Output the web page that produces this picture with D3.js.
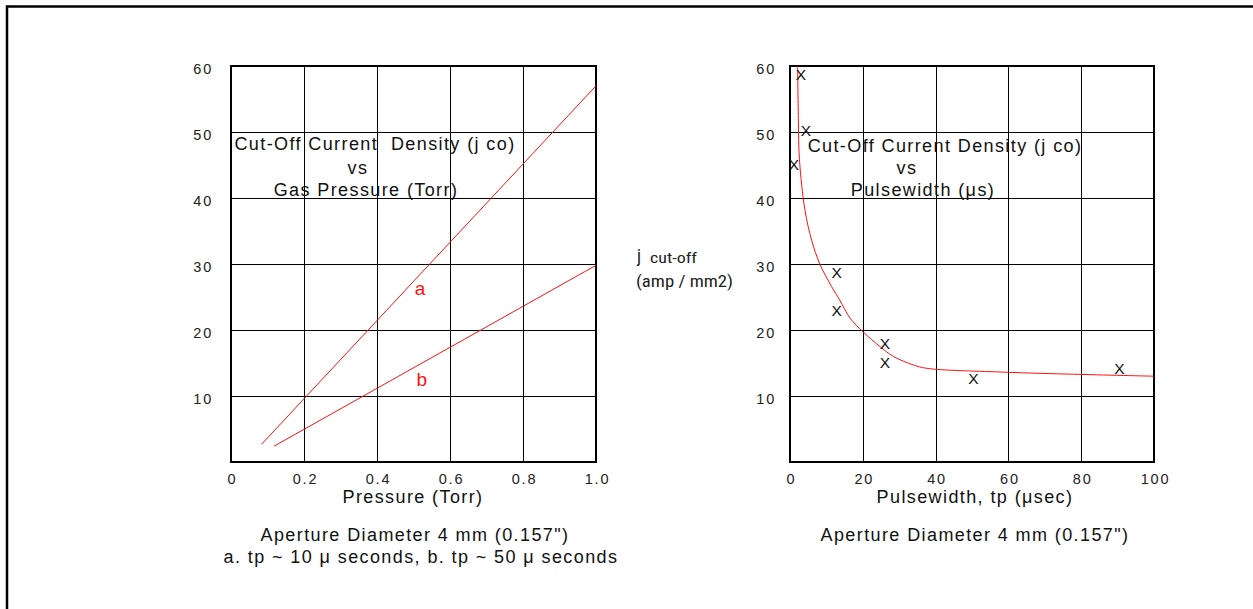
<!DOCTYPE html>
<html>
<head>
<meta charset="utf-8">
<script src="https://cdn.jsdelivr.net/npm/d3@7"></script>
<style>
  html, body { margin: 0; padding: 0; background: #fff; }
  svg { display: block; }
  .lbl { font-family: "Liberation Sans", Arial, sans-serif; font-size: 18px; fill: #111; letter-spacing: 1.4px; }
</style>
</head>
<body>
<svg id="chart" width="1253" height="609"></svg>
<script>
// ---------- data ----------
const pressureTicks = [0, 0.2, 0.4, 0.6, 0.8, 1.0];
const pressureTickLabels = ["0", "0.2", "0.4", "0.6", "0.8", "1.0"];
const pulseTicks = [0, 20, 40, 60, 80, 100];
const pulseTickLabels = ["0", "20", "40", "60", "80", "100"];
const densityTicks = [10, 20, 30, 40, 50, 60];

// left chart: lines a (tp ~ 10 us) and b (tp ~ 50 us): [pressure, j]
const lineA = [[0.084, 2.7], [1.0, 57.0]];
const lineB = [[0.118, 2.4], [1.0, 29.8]];
const lineLabels = [
  { text: "a", x: 0.518, y: 25.3 },
  { text: "b", x: 0.523, y: 11.5 }
];

// right chart: fitted curve [tp, j] and measured points
const fitCurve = [
  [2.1, 60], [2.3, 52], [2.6, 45.8], [4.1, 38.2], [6.0, 33.5], [8.2, 30.0],
  [11.4, 26.6], [13.7, 24.5], [16.5, 21.8], [20.1, 19.7], [24.7, 17.5],
  [28.4, 16.0], [33.9, 14.7], [37.5, 14.2], [59.5, 13.6], [77.8, 13.3], [100, 13.0]
];
const measured = [
  [3.0, 58.8], [4.4, 50.3], [1.1, 45.1], [12.8, 28.8], [12.8, 22.9],
  [26.1, 18.0], [26.1, 15.1], [50.4, 12.7], [90.5, 14.2]
];

// ---------- drawing ----------
const svg = d3.select("#chart");
const RED = "#ff1010";
const SANS = "'Liberation Sans', Arial, sans-serif";

// outer frame (top and left edges)
svg.append("path")
  .attr("d", "M7,609 V6.5 H1253")
  .attr("fill", "none").attr("stroke", "#000").attr("stroke-width", 2.5);

function panel(x0, x1, xDomain, xTicks, xLabels, yPad) {
  const y0 = 66, y1 = 462;
  const x = d3.scaleLinear().domain(xDomain).range([x0, x1]);
  const y = d3.scaleLinear().domain([0, 60]).range([y1, y0]);
  const g = svg.append("g");

  const gx = g.append("g").attr("transform", `translate(0,${y1})`)
    .call(d3.axisBottom(x).tickValues(xTicks)
      .tickFormat((d, i) => xLabels[i])
      .tickSize(-(y1 - y0)).tickPadding(12));
  gx.select(".domain").remove();
  gx.selectAll(".tick line").attr("stroke", "#000").attr("shape-rendering", "crispEdges");
  gx.selectAll(".tick text").attr("dy", "0.71em").attr("dx", "1px");

  const gy = g.append("g").attr("transform", `translate(${x0},0)`)
    .call(d3.axisLeft(y).tickValues(densityTicks)
      .tickSize(-(x1 - x0)).tickPadding(yPad));
  gy.select(".domain").remove();
  gy.selectAll(".tick line").attr("stroke", "#000").attr("shape-rendering", "crispEdges");
  gy.selectAll(".tick text").attr("dy", "0.55em");

  g.selectAll(".tick text")
    .style("font-family", SANS).style("font-size", "14.5px")
    .style("fill", "#222").style("letter-spacing", "1.8px");

  g.append("rect")
    .attr("x", x0).attr("y", y0).attr("width", x1 - x0).attr("height", y1 - y0)
    .attr("fill", "none").attr("stroke", "#000").attr("stroke-width", 1.2)
    .attr("shape-rendering", "crispEdges");
  return { g, x, y };
}

// ----- left panel -----
const L = panel(231, 596, [0, 1], pressureTicks, pressureTickLabels, 18);
const line = d3.line().x(d => L.x(d[0])).y(d => L.y(d[1]));
[lineA, lineB].forEach(d => {
  L.g.append("path").attr("d", line(d))
    .attr("fill", "none").attr("stroke", RED).attr("stroke-width", 1);
});
L.g.selectAll(".ab").data(lineLabels).join("text")
  .attr("x", d => L.x(d.x)).attr("y", d => L.y(d.y))
  .attr("text-anchor", "middle")
  .style("font-family", SANS)
  .style("font-size", "19px").style("fill", RED)
  .text(d => d.text);

function txt(x, y, s) {
  return svg.append("text").attr("class", "lbl")
    .attr("x", x).attr("y", y).attr("text-anchor", "middle").text(s);
}
txt(375, 150, "Cut-Off Current\u00a0 Density (j co)");
txt(358, 174, "vs");
txt(366, 196, "Gas Pressure (Torr)");
txt(413, 503, "Pressure (Torr)");
txt(415, 541, "Aperture Diameter 4 mm (0.157\")");
txt(421, 563, "a. tp ~ 10 \u03bc seconds, b. tp ~ 50 \u03bc seconds");

// ----- right panel -----
const R = panel(790, 1154, [0, 100], pulseTicks, pulseTickLabels, 14);
const curve = d3.line().x(d => R.x(d[0])).y(d => R.y(d[1])).curve(d3.curveCatmullRom.alpha(0.5));
R.g.append("path").attr("d", curve(fitCurve))
  .attr("fill", "none").attr("stroke", RED).attr("stroke-width", 1);
R.g.selectAll(".pt").data(measured).join("text")
  .attr("x", d => R.x(d[0])).attr("y", d => R.y(d[1]))
  .attr("dy", "0.36em").attr("text-anchor", "middle")
  .style("font-family", SANS)
  .style("font-size", "15.5px").style("fill", "#111")
  .text("X");

txt(945, 152, "Cut-Off Current Density (j co)");
txt(907, 174, "vs");
txt(923, 196, "Pulsewidth (\u03bcs)");
txt(975, 503, "Pulsewidth, tp (\u03bcsec)");
txt(975, 541, "Aperture Diameter 4 mm (0.157\")");

// ----- shared y-axis label -----
const narrow = "'Liberation Sans Narrow', 'Roboto Condensed', 'DejaVu Sans Condensed', sans-serif";
svg.append("text").attr("x", 637).attr("y", 262)
  .style("font-family", narrow).style("font-size", "18px").style("fill", "#222").text("j");
svg.append("text").attr("x", 650).attr("y", 263)
  .attr("textLength", 47).attr("lengthAdjust", "spacingAndGlyphs")
  .style("font-family", narrow).style("font-size", "15px").style("fill", "#222").text("cut-off");
svg.append("text").attr("x", 636).attr("y", 287)
  .attr("textLength", 97).attr("lengthAdjust", "spacingAndGlyphs")
  .style("font-family", narrow).style("font-size", "16px").style("fill", "#222").text("(amp / mm2)");
</script>
</body>
</html>
